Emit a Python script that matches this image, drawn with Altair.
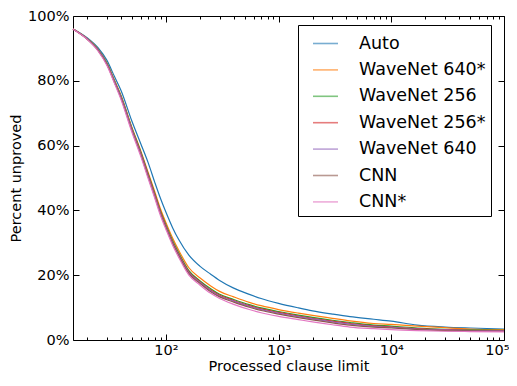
import altair as alt
import pandas as pd

x_vals = [15, 20, 25, 30, 35, 40, 50, 60, 70, 80, 90, 100, 115, 130, 160, 200, 250, 300,
          400, 550, 700, 1000, 1500, 2000, 3000, 4300, 7000, 10000, 17000, 30000, 50000, 100000]

series_names = ["Auto", "WaveNet 640*", "WaveNet 256", "WaveNet 256*", "WaveNet 640", "CNN", "CNN*"]
series_colors = ["#1f77b4", "#ff7f0e", "#2ca02c", "#d62728", "#9467bd", "#8c564b", "#e377c2"]

auto = [96.0, 93.3, 90.2, 86.3, 81.3, 77.0, 67.5, 60.5, 54.5, 48.5, 43.5, 39.5, 34.6, 31.0, 26.2, 22.8,
        20.3, 18.4, 16.0, 14.1, 12.8, 11.3, 9.9, 9.0, 8.0, 7.2, 6.4, 5.8, 4.6, 4.0, 3.7, 3.4]
wavenet_640_star = [96.0, 93.1, 89.8, 85.5, 80.2, 75.5, 65.6, 58.3, 51.5, 45.6, 40.3, 36.3, 31.4, 27.7, 22.3, 19.2,
                    16.7, 15.0, 13.3, 11.6, 10.6, 9.4, 8.3, 7.6, 6.7, 5.9, 5.1, 4.8, 4.3, 3.8, 3.4, 3.2]
wavenet_256 = [96.0, 93.0, 89.7, 85.4, 80.0, 75.3, 65.4, 58.0, 51.0, 45.0, 39.6, 35.6, 30.6, 26.9, 21.4, 18.3,
               15.8, 14.1, 12.5, 10.9, 9.9, 8.8, 7.7, 7.0, 6.1, 5.4, 4.6, 4.3, 3.7, 3.3, 3.1, 3.0]
wavenet_256_star = [96.0, 92.9, 89.5, 85.1, 79.7, 74.9, 65.0, 57.6, 50.7, 44.7, 39.3, 35.2, 30.2, 26.5, 21.0, 18.0,
                    15.4, 13.8, 12.2, 10.6, 9.6, 8.5, 7.4, 6.7, 5.8, 5.1, 4.4, 4.0, 3.5, 3.2, 3.0, 2.9]
wavenet_640 = [96.0, 93.0, 89.6, 85.2, 79.8, 75.0, 65.0, 57.5, 50.5, 44.5, 39.0, 35.0, 30.0, 26.3, 20.8, 17.8,
               15.2, 13.6, 12.0, 10.4, 9.4, 8.3, 7.2, 6.5, 5.6, 4.9, 4.2, 3.9, 3.4, 3.1, 2.9, 2.8]
cnn = [96.0, 92.9, 89.4, 85.0, 79.5, 74.6, 64.6, 57.1, 50.1, 44.1, 38.7, 34.7, 29.7, 26.0, 20.5, 17.5,
       14.9, 13.3, 11.7, 10.1, 9.1, 8.0, 6.9, 6.2, 5.3, 4.6, 4.0, 3.7, 3.2, 2.9, 2.8, 2.7]
cnn_star = [95.9, 92.8, 89.2, 84.7, 79.2, 74.2, 64.1, 56.6, 49.6, 43.6, 38.2, 34.2, 29.2, 25.5, 20.0, 17.0,
            14.4, 12.8, 11.0, 9.4, 8.4, 7.3, 6.3, 5.6, 4.7, 4.0, 3.5, 3.2, 2.9, 2.7, 2.6, 2.5]

all_series = [auto, wavenet_640_star, wavenet_256, wavenet_256_star, wavenet_640, cnn, cnn_star]

x_major = [100, 1000, 10000, 100000]
x_major_labels = ["10²", "10³", "10⁴", "10⁵"]
x_minor = [20, 30, 40, 50, 60, 70, 80, 90, 200, 300, 400, 500, 600, 700, 800, 900,
           2000, 3000, 4000, 5000, 6000, 7000, 8000, 9000, 20000, 30000, 40000, 50000, 60000, 70000, 80000, 90000]
y_ticks = [0, 20, 40, 60, 80, 100]

rows = []
for name, vals in zip(series_names, all_series):
    for xv, yv in zip(x_vals, vals):
        rows.append({"series": name, "x": xv, "y": yv})
df = pd.DataFrame(rows)

W, H = 431, 324
FONT = "DejaVu Sans"

xscale = alt.Scale(type="log", domain=[15, 100000], nice=False)
yscale = alt.Scale(domain=[0, 100], nice=False)

label_expr = " : ".join(
    [f"datum.value == {v} ? '{l}'" for v, l in zip(x_major, x_major_labels)]) + " : ''"

lines = alt.Chart(df).mark_line(strokeWidth=1.2, interpolate="monotone").encode(
    x=alt.X("x:Q", scale=xscale,
            axis=alt.Axis(values=x_major, labelExpr=label_expr, ticks=False, tickSize=0,
                          labelPadding=3, labelFlush=True, labelFlushOffset=5, labelFontSize=14.5,
                          title="Processed clause limit", titleFontSize=14.5, titleFontWeight="normal",
                          titlePadding=3, grid=False, domain=False)),
    y=alt.Y("y:Q", scale=yscale,
            axis=alt.Axis(values=y_ticks, labelExpr="datum.value + '%'", ticks=False, tickSize=0,
                          labelPadding=4, labelFontSize=14.5,
                          title="Percent unproved", titleFontSize=14.5, titleFontWeight="normal",
                          titlePadding=4, grid=False, domain=False)),
    color=alt.Color("series:N", scale=alt.Scale(domain=series_names, range=series_colors),
                    legend=alt.Legend(title=None, orient="none", legendX=225, legendY=9,
                                      symbolType="stroke", symbolSize=625, symbolStrokeWidth=1.6,
                                      symbolOpacity=0.6, labelFontSize=17.5, labelOffset=20,
                                      rowPadding=4.4, padding=5, symbolOffset=9,
                                      strokeColor="black", fillColor="white", cornerRadius=0,
                                      labelColor="black")),
    order=alt.Order("series:N"),
)


def tick_layer(values, orient, offset, size, channel):
    base = alt.Chart(df).mark_point(opacity=0)
    if channel == "x":
        return base.encode(
            x=alt.X("x:Q", scale=xscale,
                    axis=alt.Axis(orient=orient, offset=offset, values=values, labels=False,
                                  tickSize=size, tickColor="black", domain=False, grid=False, title=None)),
            y=alt.Y("y:Q", scale=yscale, axis=None),
        )
    return base.encode(
        x=alt.X("x:Q", scale=xscale, axis=None),
        y=alt.Y("y:Q", scale=yscale,
                axis=alt.Axis(orient=orient, offset=offset, values=values, labels=False,
                              tickSize=size, tickColor="black", domain=False, grid=False, title=None)),
    )


layers = [
    tick_layer(x_major, "top", -H, 6, "x"),
    tick_layer(x_minor, "top", -H, 3, "x"),
    tick_layer(x_major, "bottom", -H, 6, "x"),
    tick_layer(x_minor, "bottom", -H, 3, "x"),
    tick_layer(y_ticks, "right", -W, 6, "y"),
    tick_layer(y_ticks, "left", -W, 6, "y"),
]

chart = alt.layer(lines, *layers).properties(
    width=W, height=H,
    autosize=alt.AutoSizeParams(type="none"),
    padding={"left": 65, "top": 8, "right": 5, "bottom": 34},
).configure_view(
    stroke="black", strokeWidth=1
).configure_axis(
    labelFont=FONT, titleFont=FONT, labelColor="black", titleColor="black"
).configure_legend(
    labelFont=FONT
)

chart.save("out.html", embed_options={"renderer": "svg", "actions": False})
